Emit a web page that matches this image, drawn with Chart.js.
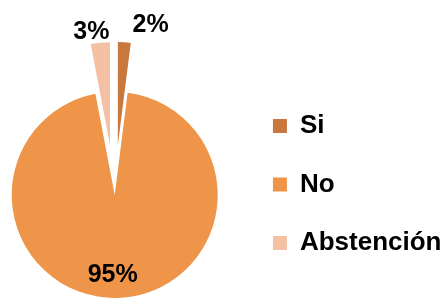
<!DOCTYPE html>
<html>
<head>
<meta charset="utf-8">
<script src="https://cdn.jsdelivr.net/npm/chart.js@4"></script>
<style>
  html, body { margin: 0; padding: 0; background: #fff; }
</style>
</head>
<body>
<canvas id="chart" width="445" height="299"></canvas>
<script>
const labels = ["Si", "No", "Abstención"];
const values = [2, 95, 3];
const percentLabels = ["2%", "95%", "3%"];
const colors = ["#C8783C", "#EF9549", "#F4C1A5"];

const FONT = "'Liberation Sans', Arial, sans-serif";

// pull Si / Abstención away from the centre, and nudge the whole pie left a bit
const explodePlugin = {
  id: "explode",
  afterDatasetsUpdate(chart, args, opts) {
    const meta = chart.getDatasetMeta(0);
    meta.data.forEach((arc, i) => {
      const d = opts.distance[i] || 0;
      const mid = (arc.startAngle + arc.endAngle) / 2;
      arc.x += Math.cos(mid) * d + opts.shift[0];
      arc.y += Math.sin(mid) * d + opts.shift[1];
    });
  }
};

const pctPlugin = {
  id: "pct",
  afterDatasetsDraw(chart, args, opts) {
    const ctx = chart.ctx;
    const meta = chart.getDatasetMeta(0);
    ctx.save();
    ctx.font = "bold 25px " + FONT;
    ctx.fillStyle = "#000";
    ctx.textAlign = "center";
    ctx.textBaseline = "middle";
    meta.data.forEach((arc, i) => {
      const mid = (arc.startAngle + arc.endAngle) / 2;
      const r = arc.outerRadius * opts.radius[i];
      const x = arc.x + Math.cos(mid) * r + opts.nudge[i][0];
      const y = arc.y + Math.sin(mid) * r + opts.nudge[i][1];
      ctx.fillText(percentLabels[i], x, y);
    });
    ctx.restore();
  }
};

new Chart(document.getElementById("chart"), {
  type: "pie",
  data: {
    labels,
    datasets: [{
      data: values,
      backgroundColor: colors,
      borderWidth: 0,
      radius: 103
    }]
  },
  options: {
    responsive: false,
    animation: false,
    layout: { padding: { top: 70, bottom: 0, left: 0, right: -6.5 } },
    plugins: {
      tooltip: { enabled: false },
      title: { display: true, text: "", fullSize: false, padding: 0, font: { size: 21, lineHeight: 1 } },
      legend: {
        position: "right",
        labels: {
          boxWidth: 14,
          boxHeight: 14,
          padding: 32.5,
          color: "#000",
          font: { family: FONT, size: 26, weight: "bold" }
        }
      },
      explode: { distance: [50, 0, 50], shift: [-5.5, 0] },
      pct: { radius: [1.2, 0.77, 1.2], nudge: [[25, 3], [-4.5, 1], [-7, 10]] }
    }
  },
  plugins: [explodePlugin, pctPlugin]
});
</script>
</body>
</html>
